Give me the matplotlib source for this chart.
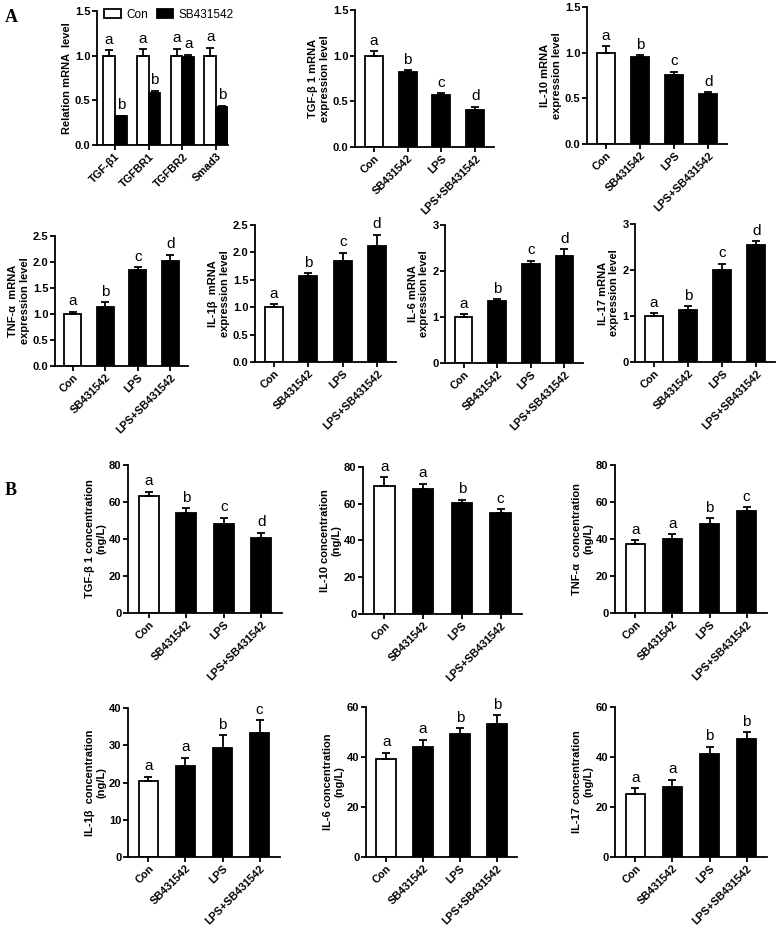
import numpy as np
import matplotlib
matplotlib.use('Agg')
import matplotlib.pyplot as plt
from matplotlib.patches import Patch

plt.rcParams['font.family'] = ['Liberation Sans', 'DejaVu Sans']

W, H = 778, 930

# ---- data ----
treatments = ['Con', 'SB431542', 'LPS', 'LPS+SB431542']

genes = ['TGF-β1', 'TGFBR1', 'TGFBR2', 'Smad3']
con_rel = [1.0, 1.0, 1.0, 1.0]
con_rel_err = [0.06, 0.07, 0.08, 0.09]
sb_rel = [0.32, 0.58, 0.99, 0.43]
sb_rel_err = [0.01, 0.03, 0.02, 0.01]
con_rel_letters = ['a', 'a', 'a', 'a']
sb_rel_letters = ['b', 'b', 'a', 'b']

tgfb1_mrna = [1.0, 0.82, 0.57, 0.41]
tgfb1_mrna_err = [0.05, 0.02, 0.02, 0.03]
il10_mrna = [1.0, 0.95, 0.76, 0.55]
il10_mrna_err = [0.07, 0.02, 0.03, 0.015]
tnfa_mrna = [1.0, 1.13, 1.84, 2.02]
tnfa_mrna_err = [0.04, 0.10, 0.06, 0.12]
il1b_mrna = [1.0, 1.57, 1.85, 2.12]
il1b_mrna_err = [0.05, 0.05, 0.14, 0.20]
il6_mrna = [1.0, 1.34, 2.15, 2.33]
il6_mrna_err = [0.06, 0.05, 0.07, 0.14]
il17_mrna = [1.0, 1.13, 2.0, 2.55]
il17_mrna_err = [0.06, 0.08, 0.14, 0.07]

tgfb1_conc = [63.2, 54.0, 48.2, 40.3]
tgfb1_conc_err = [2.3, 2.6, 3.2, 3.0]
il10_conc = [69.5, 68.0, 60.2, 55.2]
il10_conc_err = [5.0, 3.0, 2.0, 1.8]
tnfa_conc = [37.2, 40.2, 48.2, 55.4]
tnfa_conc_err = [2.2, 2.5, 3.0, 1.8]
il1b_conc = [20.4, 24.3, 29.3, 33.2]
il1b_conc_err = [1.2, 2.3, 3.4, 3.5]
il6_conc = [39.3, 43.9, 49.2, 53.2]
il6_conc_err = [2.5, 3.0, 2.3, 3.6]
il17_conc = [25.3, 28.2, 41.2, 47.2]
il17_conc_err = [2.2, 2.8, 3.0, 2.8]

letters_abcd = ['a', 'b', 'c', 'd']
letters_aabc = ['a', 'a', 'b', 'c']
letters_aabb = ['a', 'a', 'b', 'b']

XTICK_FS = 7.8
YTICK_FS = 8
LABEL_FS = 8
LETTER_FS = 11
LW = 1.3


def px_axes(fig, left, right, top, bottom):
    """Axes placed by pixel edges (top = y of axis max, bottom = y of zero)."""
    return fig.add_axes([left / W, 1 - bottom / H, (right - left) / W, (bottom - top) / H])


def style_ax(ax, ymax, ystep, fmt):
    ax.set_ylim(0, ymax)
    ticks = np.arange(0, ymax + ystep / 2, ystep)
    ax.set_yticks(ticks)
    ax.set_yticklabels([fmt.format(t) for t in ticks], fontsize=YTICK_FS, fontweight='bold')
    for s in ['top', 'right']:
        ax.spines[s].set_visible(False)
    for s in ['left', 'bottom']:
        ax.spines[s].set_linewidth(LW)
    ax.tick_params(axis='both', width=LW, length=3.5, direction='out', pad=1.2)


def xlabels(ax, x, labels):
    ax.set_xticks(x)
    ax.set_xticklabels(labels, rotation=45, ha='right', rotation_mode='anchor',
                       fontsize=XTICK_FS, fontweight='bold')


def bars_with_letters(ax, x, vals, errs, colors, letters, width):
    ax.bar(x, vals, width=width, color=colors, edgecolor='black', linewidth=LW, zorder=2)
    ax.errorbar(x, vals, yerr=[np.zeros(len(vals)), errs], fmt='none', ecolor='black',
                elinewidth=LW, capsize=3, capthick=LW, zorder=3)
    for xi, v, e, t in zip(x, vals, errs, letters):
        ax.annotate(t, (xi, v + e), xytext=(0, 2.5), textcoords='offset points',
                    ha='center', va='bottom', fontsize=LETTER_FS)


def treatment_panel(fig, box, vals, errs, letters, ymax, ystep, fmt, ylabel):
    ax = px_axes(fig, *box)
    x = np.arange(len(treatments))
    colors = ['white', 'black', 'black', 'black']
    bars_with_letters(ax, x, vals, errs, colors, letters, 0.53)
    ax.set_xlim(-0.55, 3.55)
    style_ax(ax, ymax, ystep, fmt)
    xlabels(ax, x, treatments)
    ax.set_ylabel(ylabel, fontsize=LABEL_FS, fontweight='bold', labelpad=2, linespacing=1.2)
    return ax


fig = plt.figure(figsize=(W / 100, H / 100), dpi=100)

# ---- A: relative mRNA, grouped bars ----
ax = px_axes(fig, 97, 228, 11, 145)
xg = np.arange(len(genes))
bw = 0.35
bars_with_letters(ax, xg - bw / 2, con_rel, con_rel_err, 'white', con_rel_letters, bw)
bars_with_letters(ax, xg + bw / 2, sb_rel, sb_rel_err, 'black', sb_rel_letters, bw)
ax.set_xlim(-0.53, 3.35)
style_ax(ax, 1.5, 0.5, '{:.1f}')
xlabels(ax, xg, genes)
ax.set_ylabel('Relation mRNA  level', fontsize=LABEL_FS, fontweight='bold', labelpad=2)
handles = [Patch(facecolor='white', edgecolor='black', linewidth=LW, label='Con'),
           Patch(facecolor='black', edgecolor='black', linewidth=LW, label='SB431542')]
ax.legend(handles=handles, loc='upper left', bbox_to_anchor=(0.0, 1.07), ncol=2,
          frameon=False, fontsize=8.5, handlelength=1.4, handleheight=0.8,
          handletextpad=0.5, columnspacing=0.7, borderaxespad=0.2)

treatment_panel(fig, (355, 494, 10, 147), tgfb1_mrna, tgfb1_mrna_err, letters_abcd,
                1.5, 0.5, '{:.1f}', 'TGF-β 1 mRNA\nexpression level')
treatment_panel(fig, (587, 727, 7, 144), il10_mrna, il10_mrna_err, letters_abcd,
                1.5, 0.5, '{:.1f}', 'IL-10 mRNA\nexpression level')
treatment_panel(fig, (55, 188, 236, 366), tnfa_mrna, tnfa_mrna_err, letters_abcd,
                2.5, 0.5, '{:.1f}', 'TNF-α  mRNA\nexpression level')
treatment_panel(fig, (255, 396, 225, 362), il1b_mrna, il1b_mrna_err, letters_abcd,
                2.5, 0.5, '{:.1f}', 'IL-1β  mRNA\nexpression level')
treatment_panel(fig, (445, 583, 225, 363), il6_mrna, il6_mrna_err, letters_abcd,
                3, 1, '{:.0f}', 'IL-6 mRNA\nexpression level')
treatment_panel(fig, (635, 775, 224, 362), il17_mrna, il17_mrna_err, letters_abcd,
                3, 1, '{:.0f}', 'IL-17 mRNA\nexpression level')

# ---- B: ELISA concentrations ----
treatment_panel(fig, (128, 282, 465, 613), tgfb1_conc, tgfb1_conc_err, letters_abcd,
                80, 20, '{:.0f}', 'TGF-β 1 concentration\n(ng/L)')
treatment_panel(fig, (363, 522, 467, 614), il10_conc, il10_conc_err, letters_aabc,
                80, 20, '{:.0f}', 'IL-10 concentration\n(ng/L)')
treatment_panel(fig, (615, 767, 465, 613), tnfa_conc, tnfa_conc_err, letters_aabc,
                80, 20, '{:.0f}', 'TNF-α  concentration\n(ng/L)')
treatment_panel(fig, (128, 280, 708, 857), il1b_conc, il1b_conc_err, letters_aabc,
                40, 10, '{:.0f}', 'IL-1β  concentration\n(ng/L)')
treatment_panel(fig, (366, 517, 707, 857), il6_conc, il6_conc_err, letters_aabb,
                60, 20, '{:.0f}', 'IL-6 concentration\n(ng/L)')
treatment_panel(fig, (615, 767, 707, 857), il17_conc, il17_conc_err, letters_aabb,
                60, 20, '{:.0f}', 'IL-17 concentration\n(ng/L)')

fig.text(5 / W, 1 - 18 / H, 'A', fontsize=13, fontweight='bold', family='Liberation Serif',
         va='center', ha='left')
fig.text(5 / W, 1 - 490 / H, 'B', fontsize=13, fontweight='bold', family='Liberation Serif',
         va='center', ha='left')

fig.savefig('out.png', dpi=100)
